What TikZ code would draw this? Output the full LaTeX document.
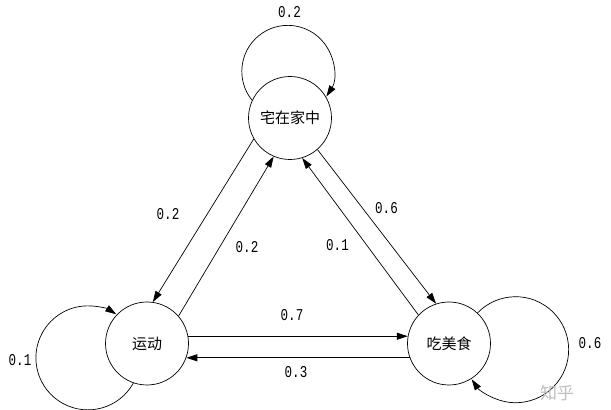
\documentclass[tikz,border=0pt]{standalone}
\usepackage{fontspec}
\newfontfamily\cjk{Noto Sans CJK SC}
\newfontfamily\digits[FakeStretch=0.76]{Liberation Mono}
\usetikzlibrary{arrows.meta}

\begin{document}
\begin{tikzpicture}[x=1pt,y=1pt,->,>={Triangle[length=11pt,width=7pt]},line width=0.7pt,
  main node/.style={circle,draw,minimum size=83pt,inner sep=0pt,font=\cjk\fontsize{15}{16}\selectfont},
  prob/.style={font=\digits\fontsize{16.5}{17}\selectfont,inner sep=0pt}]
\useasboundingbox (0,0) rectangle (611,410);
\node[main node] (home) at (290,292) {宅在家中};
\node[main node] (sport) at (147,66.5) {运动};
\node[main node] (food) at (449,66.5) {吃美食};
% self loops
\draw (home.155) arc[start angle=219, end angle=-33, radius=46];
\draw (sport.251) arc[start angle=-29, end angle=-303, radius=52];
\draw (food.47) arc[start angle=136, end angle=-146, radius=53];
% transitions
\path (home.210) edge (sport.82);
\path (sport.41) edge (home.247);
\path (home.311) edge (food.108);
\path (food.137) edge (home.287);
\path (sport.10) edge (food.170);
\path (food.200) edge (sport.-20);
% probabilities
\node[prob] (p-hh) at (289.5,397.5) {0.2};
\node[prob] (p-hs) at (168,195.5) {0.2};
\node[prob] (p-sh) at (247,163) {0.2};
\node[prob] (p-fh) at (337.5,165) {0.1};
\node[prob] (p-hf) at (386.5,202) {0.6};
\node[prob] (p-sf) at (292,95) {0.7};
\node[prob] (p-fs) at (296,38) {0.3};
\node[prob] (p-ss) at (20,50) {0.1};
\node[prob] (p-ff) at (590,67) {0.6};
\node[text=black!25,font=\cjk\fontsize{17}{18}\selectfont] (mark) at (557,17) {知乎};
\end{tikzpicture}
\end{document}
